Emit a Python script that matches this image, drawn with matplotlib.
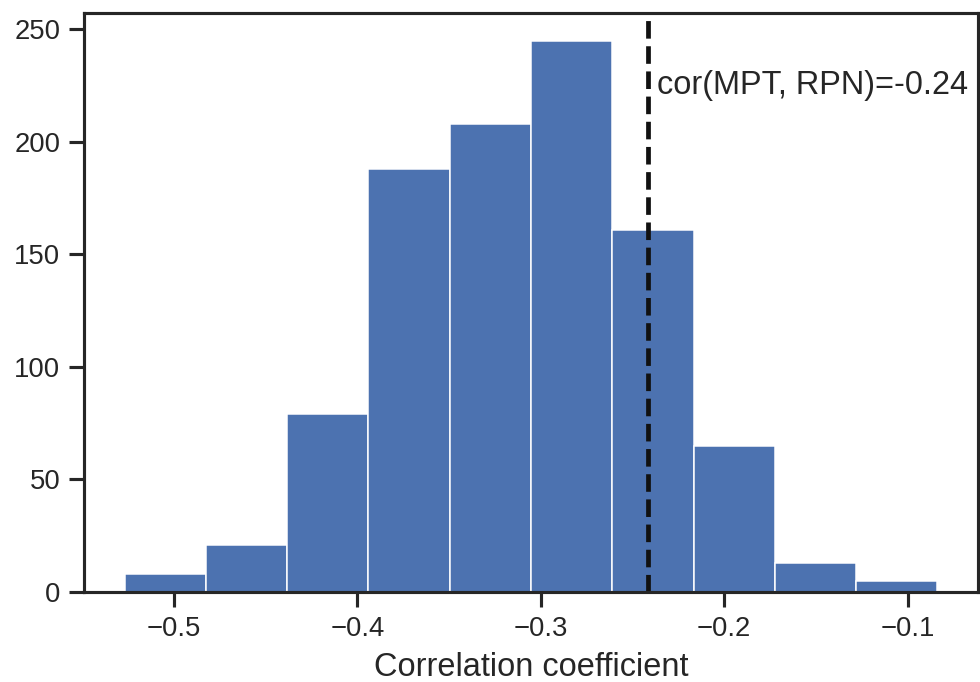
import matplotlib
matplotlib.use("Agg")
import matplotlib.pyplot as plt
import seaborn as sns
import numpy as np

# histogram of correlation coefficients
bin_edges = [-0.527, -0.4827, -0.4383, -0.394, -0.3497, -0.3053,
             -0.261, -0.2167, -0.1723, -0.128, -0.0837]
counts = [8, 21, 79, 188, 208, 245, 161, 65, 13, 5]
observed_cor = -0.2418
cor_label = "cor(MPT, RPN)=-0.24"

sns.set_theme(style="ticks", context="notebook")
plt.rcParams['font.family'] = ['Liberation Sans', 'DejaVu Sans']

fig, ax = plt.subplots(figsize=(980 / 180, 682 / 180), dpi=180)
fig.subplots_adjust(left=0.0857, right=0.998, top=0.981, bottom=0.132)

edges = np.array(bin_edges)
ax.hist(edges[:-1], bins=edges, weights=counts, color="#4C72B0",
        edgecolor="white", linewidth=0.6)
ax.axvline(observed_cor, color="#111111", linestyle="--", linewidth=1.9)
ax.text(observed_cor + 0.005, 225, cor_label, va="center", ha="left",
        fontsize=13, color="#262626")

ax.set_xticks([-0.5, -0.4, -0.3, -0.2, -0.1])
ax.set_yticks([0, 50, 100, 150, 200, 250])
ax.set_xlabel("Correlation coefficient", fontsize=13)

fig.savefig("out.png", dpi=180)
